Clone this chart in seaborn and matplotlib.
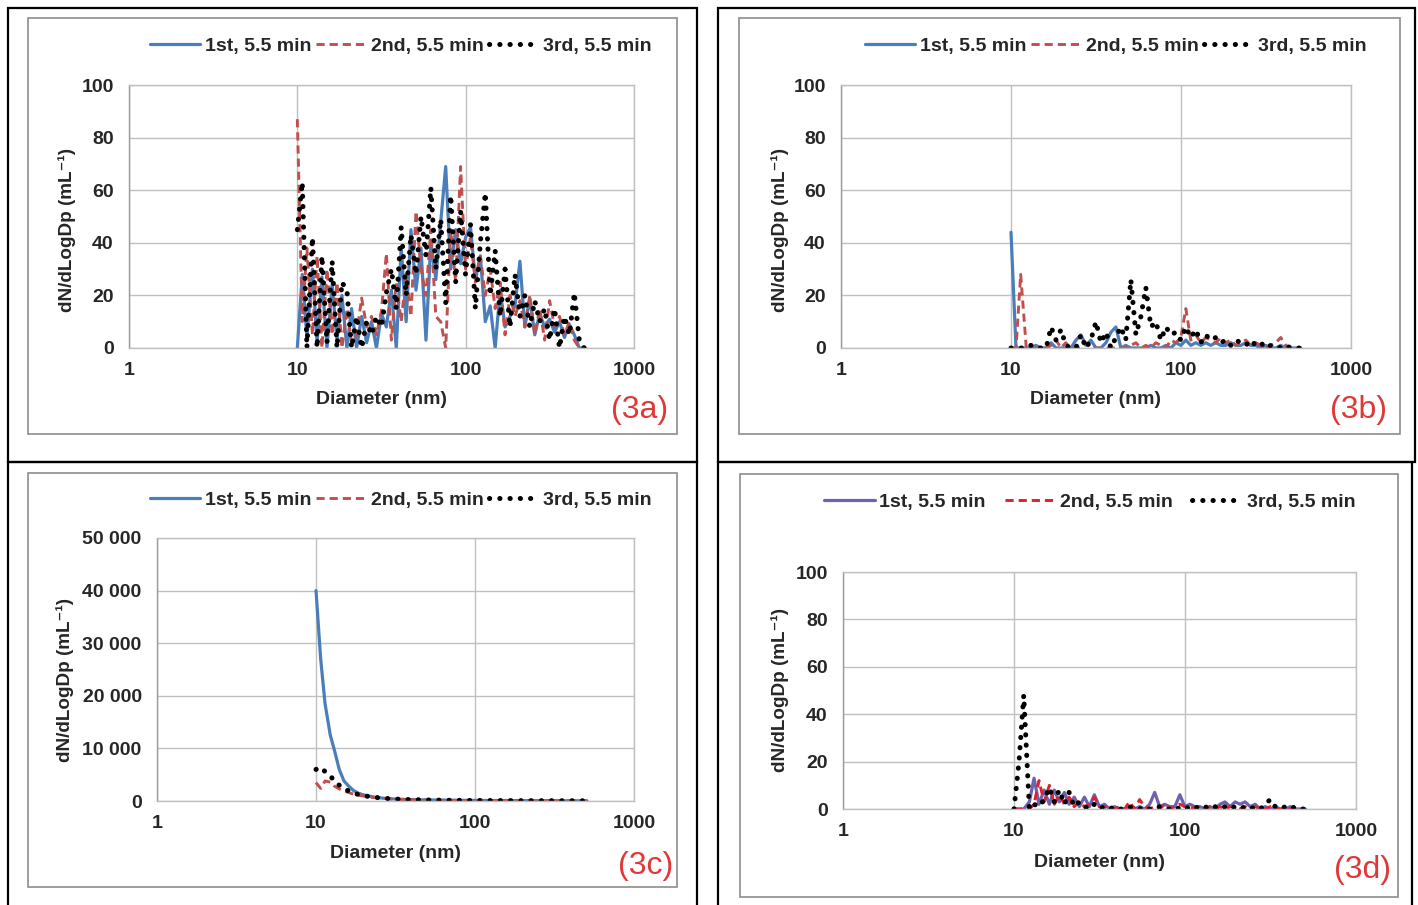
import matplotlib
matplotlib.use("Agg")
import numpy as np
import pandas as pd
import matplotlib.pyplot as plt
import seaborn as sns
from matplotlib.patches import Rectangle
from matplotlib.ticker import FixedLocator, NullLocator, FuncFormatter

# diametres des canaux (nm)
diam = [10.0, 10.7, 11.4, 12.3, 13.1, 14.0, 15.0, 16.1, 17.2, 18.4,
        19.7, 21.0, 22.5, 24.1, 25.8, 27.6, 29.5, 31.6, 33.8, 36.2,
        38.7, 41.4, 44.3, 47.3, 50.7, 54.3, 58.1, 62.1, 66.5, 71.1,
        76.1, 81.5, 87.2, 93.3, 99.8, 106.8, 114.2, 122.2, 130.8, 139.9,
        149.7, 160.2, 171.4, 183.4, 196.3, 210.0, 224.7, 240.5, 257.3, 275.3,
        294.6, 315.2, 337.3, 360.9, 386.1, 413.2, 442.1, 473.0, 506.1]

series_names = ["1st, 5.5 min", "2nd, 5.5 min", "3rd, 5.5 min"]

# (3a)
a_1st = [0, 28, 4, 30, 2, 27, 0, 24, 3, 20,
         0, 15, 0, 12, 2, 10, 0, 13, 8, 22,
         0, 38, 10, 45, 22, 38, 3, 40, 26, 48,
         69, 30, 45, 32, 42, 46, 26, 35, 10, 16,
         0, 22, 8, 12, 16, 33, 8, 19, 5, 13,
         8, 11, 6, 10, 4, 9, 5, 0, 0]
a_2nd = [87, 10, 38, 5, 35, 0, 30, 5, 25, 0,
         15, 2, 5, 19, 8, 12, 5, 14, 36, 3,
         25, 10, 28, 12, 52, 30, 20, 45, 12, 10,
         0, 45, 25, 69, 30, 42, 25, 35, 20, 30,
         15, 25, 5, 20, 12, 18, 8, 20, 5, 15,
         3, 18, 8, 12, 5, 10, 3, 0, 0]
a_3rd = [45, 63, 0, 42, 0, 35, 2, 33, 0, 25,
         22, 0, 12, 0, 10, 5, 12, 8, 21, 30,
         15, 46, 20, 43, 28, 50, 35, 61, 30, 49,
         17, 58, 25, 52, 28, 47, 15, 40, 59, 20,
         37, 12, 30, 8, 28, 12, 20, 8, 18, 10,
         15, 3, 15, 0, 12, 5, 21, 3, 0]

# (3b)
b_1st = [44, 0, 0, 0, 0, 1, 0, 0, 2, 0,
         0, 0, 0, 3, 5, 1, 3, 0, 0, 2,
         6, 8, 0, 1, 0, 0, 0, 0, 1, 0,
         0, 1, 0, 2, 1, 3, 1, 2, 1, 2,
         1, 2, 1, 1, 2, 1, 1, 2, 1, 1,
         0, 1, 0, 0, 1, 0, 0, 0, 0]
b_2nd = [0, 0, 28, 0, 0, 0, 0, 0, 1, 3,
         0, 2, 0, 0, 0, 2, 0, 0, 0, 0,
         0, 0, 0, 0, 1, 2, 0, 1, 0, 2,
         1, 0, 3, 2, 4, 15, 3, 5, 2, 4,
         3, 2, 4, 2, 3, 1, 2, 3, 1, 2,
         1, 0, 1, 2, 4, 1, 0, 0, 0]
b_3rd = [0, 0, 0, 0, 1, 0, 0, 0, 8, 3,
         7, 1, 0, 0, 5, 0, 3, 10, 2, 6,
         0, 4, 8, 3, 26, 5, 12, 23, 8, 10,
         3, 8, 5, 6, 3, 8, 4, 7, 2, 5,
         3, 4, 2, 3, 1, 3, 2, 1, 3, 1,
         2, 0, 1, 1, 0, 1, 0, 0, 0]

# (3c)
c_1st = [40000, 27000, 18500, 12500, 9500, 6000, 3800, 2800, 2000, 1500,
         1200, 1000, 820, 680, 570, 480, 420, 370, 330, 300,
         270, 250, 230, 210, 195, 180, 170, 160, 150, 140,
         130, 125, 120, 115, 110, 105, 100, 95, 90, 88,
         85, 82, 80, 78, 75, 72, 70, 68, 65, 62,
         60, 58, 55, 52, 50, 48, 45, 42, 40]
c_2nd = [3500, 2400, 3800, 3600, 2800, 2300, 1900, 1600, 1300, 1100,
         950, 820, 700, 600, 520, 450, 400, 360, 320, 290,
         260, 240, 220, 200, 185, 170, 160, 150, 140, 130,
         120, 115, 110, 105, 100, 95, 90, 86, 82, 78,
         75, 72, 70, 68, 65, 62, 60, 58, 55, 52,
         50, 48, 46, 44, 42, 40, 38, 36, 35]
c_3rd = [6000, 6400, 5600, 4800, 3700, 3000, 2300, 1900, 1500, 1250,
         1050, 900, 780, 660, 570, 490, 430, 380, 340, 300,
         270, 250, 230, 210, 195, 180, 165, 155, 145, 135,
         125, 120, 115, 110, 105, 100, 96, 92, 88, 85,
         82, 80, 78, 75, 72, 70, 68, 66, 64, 62,
         60, 58, 56, 54, 52, 50, 48, 46, 44]

# (3d)
d_1st = [0, 0, 0, 3, 13, 2, 8, 2, 8, 3,
         7, 2, 5, 1, 5, 1, 6, 1, 2, 0,
         1, 0, 0, 1, 0, 1, 0, 2, 7, 1,
         2, 1, 1, 6, 1, 2, 1, 1, 0, 1,
         0, 2, 3, 1, 3, 2, 3, 1, 2, 0,
         1, 0, 1, 0, 0, 1, 0, 0, 0]
d_2nd = [0, 0, 0, 0, 2, 12, 3, 10, 2, 6,
         2, 5, 1, 3, 1, 2, 5, 1, 1, 0,
         0, 1, 0, 3, 0, 4, 1, 0, 1, 0,
         2, 0, 1, 2, 1, 1, 0, 1, 0, 1,
         0, 1, 0, 1, 1, 0, 1, 0, 1, 0,
         0, 1, 0, 0, 0, 0, 0, 0, 0]
d_3rd = [0, 20, 48, 0, 2, 1, 4, 9, 3, 8,
         2, 7, 1, 3, 1, 0, 2, 0, 1, 0,
         1, 0, 0, 1, 0, 0, 1, 0, 0, 1,
         0, 0, 1, 0, 1, 0, 1, 0, 1, 0,
         1, 0, 1, 0, 1, 0, 1, 0, 1, 0,
         2, 4, 1, 0, 1, 0, 1, 0, 0]

sns.set_style("white")
plt.rcParams["font.family"] = ["Liberation Sans", "DejaVu Sans"]
plt.rcParams["font.weight"] = "bold"

W, H = 1418, 905
fig = plt.figure(figsize=(W / 100, H / 100), dpi=100)


def cadre(x0, y0, x1, y1, **kw):
    fig.add_artist(Rectangle((x0 / W, 1 - y1 / H), (x1 - x0) / W, (y1 - y0) / H,
                             transform=fig.transFigure, fill=False, **kw))


# cellules du tableau et cadres des graphiques
cadre(8, 8, 697, 462, ec="black", lw=1.6)
cadre(718, 8, 1415, 462, ec="black", lw=1.6)
cadre(8, 462, 697, 915, ec="black", lw=1.6)
cadre(718, 462, 1412, 915, ec="black", lw=1.6)
cadre(28, 18, 677, 434, ec="#8C8C8C", lw=1.2)
cadre(739, 18, 1400, 434, ec="#8C8C8C", lw=1.2)
cadre(28, 473, 677, 887, ec="#8C8C8C", lw=1.2)
cadre(740, 474, 1398, 897, ec="#8C8C8C", lw=1.2)

styles = [dict(linewidth=2.3, linestyle="-"),
          dict(linewidth=2.1, linestyle=(0, (2.8, 1.7))),
          dict(linewidth=3.6, linestyle=(0, (0.05, 2.0)), dash_capstyle="round")]

FS = 14


def panneau(rect, ys, couleurs, ymax, ystep, leg_xy, colsp, ylab_xy, xlab_xy,
            tag, tag_xy, yfmt):
    x0, y0, x1, y1 = rect
    ax = fig.add_axes([x0 / W, 1 - y1 / H, (x1 - x0) / W, (y1 - y0) / H])
    for nom, y, c, st in zip(series_names, ys, couleurs, styles):
        df = pd.DataFrame({"diametre": diam, "valeur": y})
        sns.lineplot(data=df, x="diametre", y="valeur", ax=ax, color=c,
                     label=nom, errorbar=None, **st)
    ax.set_xscale("log")
    ax.set_xlim(1, 1000)
    ax.set_ylim(0, ymax)
    ax.xaxis.set_major_locator(FixedLocator([1, 10, 100, 1000]))
    ax.xaxis.set_minor_locator(NullLocator())
    ax.xaxis.set_major_formatter(FuncFormatter(lambda v, p: f"{v:g}"))
    ax.set_yticks(np.arange(0, ymax + 1, ystep))
    ax.yaxis.set_major_formatter(FuncFormatter(yfmt))
    ax.grid(True, color="#BFBFBF", lw=1.0)
    ax.set_axisbelow(True)
    for sp in ax.spines.values():
        sp.set_color("#BFBFBF")
        sp.set_linewidth(1.0)
    ax.spines["left"].set_color("#9A9A9A")
    ax.tick_params(axis="both", length=0, labelsize=FS)
    ax.tick_params(axis="y", pad=11)
    ax.tick_params(axis="x", pad=10)

    ax.set_xlabel("Diameter (nm)", fontsize=FS, fontweight="bold")
    ax.xaxis.label.set_va("center")
    ax.xaxis.set_label_coords((xlab_xy[0] - x0) / (x1 - x0), (y1 - xlab_xy[1]) / (y1 - y0))
    ax.set_ylabel("dN/dLogDp (mL\u207b\u00b9)", fontsize=13.6, fontweight="bold")
    ax.yaxis.label.set_va("center")
    ax.yaxis.set_label_coords((ylab_xy[0] - x0) / (x1 - x0), (y1 - ylab_xy[1]) / (y1 - y0))

    h, l = ax.get_legend_handles_labels()
    ax.legend(h, l, loc="center", bbox_to_anchor=(leg_xy[0] / W, 1 - leg_xy[1] / H),
              bbox_transform=fig.transFigure, ncol=3, frameon=False,
              handlelength=2.6, handletextpad=0.22, columnspacing=colsp,
              fontsize=FS, borderaxespad=0, borderpad=0)
    fig.text(tag_xy[0] / W, 1 - tag_xy[1] / H, tag, color="#E03838", fontsize=23,
             fontweight="normal", ha="center", va="center")
    return ax


fmt_simple = lambda v, p: f"{v:.0f}"
fmt_milliers = lambda v, p: f"{int(v):,}".replace(",", " ")

bleu, rouge, noir = "#4A7EBB", "#C0504D", "black"

panneau((129, 85, 634, 348), [a_1st, a_2nd, a_3rd], [bleu, rouge, noir], 100, 20,
        (401, 46), 0.25, (67, 230), (381, 400), "(3a)", (640, 410), fmt_simple)
panneau((841, 85, 1351, 348), [b_1st, b_2nd, b_3rd], [bleu, rouge, noir], 100, 20,
        (1116, 46), 0.25, (780, 230), (1096, 400), "(3b)", (1358, 410), fmt_simple)
panneau((157, 538, 634, 801), [c_1st, c_2nd, c_3rd], [bleu, rouge, noir], 50000, 10000,
        (401, 500), 0.25, (65, 680), (396, 853), "(3c)", (646, 866), fmt_milliers)
panneau((843, 572, 1356, 809), [d_1st, d_2nd, d_3rd], ["#6E62B0", "#E0202A", noir], 100, 20,
        (1090, 502), 1.0, (780, 690), (1099, 862), "(3d)", (1362, 870), fmt_simple)

fig.savefig("out.png", dpi=100)
